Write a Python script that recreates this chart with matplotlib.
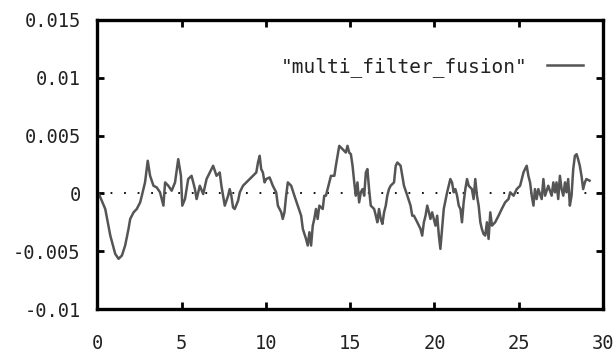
import matplotlib
matplotlib.use('Agg')
import matplotlib.pyplot as plt
import numpy as np

# time axis and filter output (values in thousandths)
t = [
    0.0, 0.08, 0.47, 0.77, 1.06, 1.26, 1.46, 1.65, 1.85, 1.95, 2.15, 2.34, 2.54, 2.64, 2.83,
    2.99, 3.13, 3.33, 3.52, 3.72, 3.92, 4.02, 4.21, 4.41, 4.61, 4.80, 4.96, 5.04, 5.20, 5.39,
    5.59, 5.79, 5.89, 6.08, 6.28, 6.48, 6.67, 6.87, 7.07,
    7.26, 7.36, 7.46, 7.56, 7.76, 7.85, 7.95, 8.05, 8.15, 8.35, 8.45, 8.64, 8.84, 9.04, 9.23,
    9.43, 9.53, 9.63, 9.72, 9.82, 9.92, 10.02, 10.22, 10.41, 10.61, 10.71, 10.91, 11.0, 11.1,
    11.2, 11.3, 11.5, 11.69, 11.89, 12.09, 12.19, 12.38, 12.48, 12.58, 12.68, 12.78, 12.87,
    12.97, 13.07, 13.17, 13.37, 13.46, 13.56, 13.76, 13.86, 14.06, 14.15, 14.25, 14.35, 14.55,
    14.74, 14.84, 14.94, 15.04, 15.14, 15.24, 15.33, 15.43, 15.53, 15.63, 15.73, 15.83, 15.93,
    16.02, 16.12, 16.22, 16.42, 16.52, 16.61, 16.71, 16.81, 16.91, 17.01, 17.11, 17.2, 17.3,
    17.4, 17.6, 17.7, 17.8, 17.99, 18.09, 18.19, 18.39, 18.58, 18.68, 18.78, 18.98, 19.17,
    19.27, 19.37, 19.47, 19.57, 19.67, 19.76, 19.86, 19.96, 20.06, 20.16, 20.26, 20.35, 20.45,
    20.55, 20.75, 20.94, 21.04, 21.14, 21.24, 21.34, 21.44, 21.54, 21.63, 21.73, 21.83, 21.93,
    22.03, 22.22, 22.32, 22.42, 22.52, 22.62, 22.72, 22.81, 22.91, 23.01, 23.11, 23.21, 23.31,
    23.41, 23.6, 23.8, 23.99, 24.19, 24.39, 24.49, 24.69, 24.88, 25.08, 25.18, 25.28, 25.37,
    25.47, 25.57, 25.67, 25.77, 25.87, 25.96, 26.06, 26.16, 26.36, 26.46, 26.56, 26.75, 26.95,
    27.05, 27.15, 27.24, 27.34, 27.44, 27.54, 27.64, 27.74, 27.83, 27.93, 28.03, 28.13, 28.23,
    28.33, 28.43, 28.52, 28.62, 28.72, 28.82, 28.92, 29.01, 29.2,
]
fusion_milli = [
    0.0, 0.0, -1.35, -3.65, -5.23, -5.66, -5.37, -4.51, -3.07, -2.21, -1.64, -1.35, -0.78, -0.2, 0.95,
    2.82, 1.52, 0.66, 0.52, 0.09, -1.06, 0.95, 0.66, 0.23, 0.95, 2.96, 1.52, -1.06, -0.49, 1.24,
    1.52, 0.37, -0.49, 0.66, -0.06, 1.24, 1.81, 2.39, 1.52,
    1.81, 0.66, -0.2, -1.06, -0.2, 0.37, -0.2, -1.21, -1.35, -0.63, 0.09, 0.66, 0.95, 1.24, 1.52,
    1.81, 2.67, 3.25, 2.1, 1.81, 0.95, 1.24, 1.38, 0.66, 0.09, -1.06, -1.64, -2.21, -1.64,
    -0.2, 0.95, 0.66, -0.2, -1.06, -1.93, -3.07, -3.94, -4.51, -3.36, -4.51, -2.79, -2.21,
    -1.35, -2.21, -1.06, -1.35, -0.2, -0.2, 0.95, 1.52, 1.52, 2.39, 3.25, 4.11, 3.82,
    3.53, 4.11, 3.53, 3.39, 2.39, 0.95, -0.2, 0.95, -0.78, 0.09, 0.37, -0.2, 1.81,
    2.1, 0.37, -1.06, -1.35, -1.93, -2.5, -1.35, -2.21, -2.64, -1.64, -1.06, -0.2, 0.37,
    0.66, 0.95, 2.39, 2.67, 2.39, 1.52, 0.66, -0.2, -1.06, -1.93, -1.93, -2.5, -3.07,
    -3.65, -2.5, -1.93, -1.06, -1.64, -2.21, -1.64, -2.21, -2.79, -1.93, -3.65, -4.8, -3.07,
    -1.35, 0.09, 1.24, 0.95, 0.09, 0.37, -0.2, -1.06, -1.35, -2.5, -0.78, 0.37, 1.24,
    0.66, 0.37, -0.49, 1.24, -0.2, -1.06, -2.5, -3.07, -3.51, -3.65, -2.5, -3.94, -1.64,
    -2.79, -2.5, -1.93, -1.35, -0.78, -0.49, 0.09, -0.2, 0.37, 0.66, 1.24, 1.81, 2.1,
    2.39, 1.52, 0.95, -0.2, -1.06, 0.37, -0.49, 0.37, -0.49, 1.24, -0.2, 0.66, -0.2,
    0.95, 0.09, 0.95, -0.49, 1.52, 0.37, -0.2, 0.95, 0.09, 1.24, -1.06, -0.2, 2.1,
    3.25, 3.39, 2.96, 2.39, 1.52, 0.37, 0.95, 1.24, 1.1,
]

x_ticks = [0, 5, 10, 15, 20, 25, 30]
y_ticks = [-0.01, -0.005, 0, 0.005, 0.01, 0.015]
y_tick_labels = ['-0.01', '-0.005', '0', '0.005', '0.01', '0.015']

plt.rcParams['font.family'] = ['DejaVu Sans Mono']

fig = plt.figure(figsize=(6.16, 3.56), dpi=100)
ax = fig.add_axes([0.158, 0.132, 0.821, 0.812])

ax.axhline(0, color='black', lw=1.3, linestyle=(0, (1, 6.5)), zorder=1)
ax.plot(t, np.array(fusion_milli) * 1e-3, color='#555555', lw=1.8,
        label='"multi_filter_fusion"', zorder=2)

ax.set_xlim(0, 30)
ax.set_ylim(-0.01, 0.015)
ax.set_xticks(x_ticks)
ax.set_yticks(y_ticks)
ax.set_yticklabels(y_tick_labels)

for s in ax.spines.values():
    s.set_linewidth(2.4)
ax.tick_params(direction='in', length=5, width=2, top=True, right=True,
               labelsize=13.5, colors='black', labelcolor='#222222')
ax.tick_params(axis='x', pad=18)
ax.tick_params(axis='y', pad=12)

ax.legend(loc='center right', bbox_to_anchor=(0.960, 0.837), frameon=False,
          markerfirst=False, handlelength=1.85, handletextpad=1.0,
          borderpad=0, borderaxespad=0, fontsize=14, labelcolor='#222222')

plt.savefig('out.png', dpi=100)
plt.close()
